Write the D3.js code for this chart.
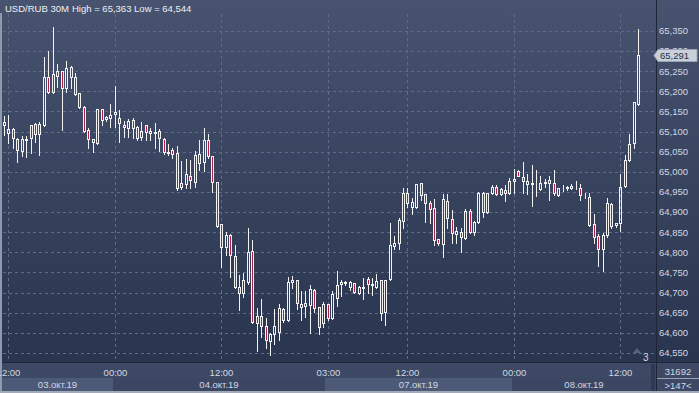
<!DOCTYPE html>
<html>
<head>
<meta charset="utf-8">
<script src="https://cdn.jsdelivr.net/npm/d3@7"></script>
<style>
  html, body { margin: 0; padding: 0; background: #2b3651; }
  svg { display: block; font-family: "Liberation Sans", Arial, sans-serif; }
</style>
</head>
<body>
<svg width="699" height="393"></svg>
<script>
// USD/RUB 30M candles, 03.10.19 12:00 .. 08.10.19 ~13:00
const opens = [
  65.116, 65.097, 65.107, 65.082, 65.052, 65.079, 65.084, 65.119, 65.094, 65.116,
  65.236, 65.198, 65.238, 65.251, 65.208, 65.261, 65.236, 65.196, 65.161, 65.104,
  65.074, 65.072, 65.156, 65.131, 65.134, 65.144, 65.134, 65.116, 65.109, 65.129,
  65.111, 65.087, 65.116, 65.097, 65.097, 65.102, 65.082, 65.049, 65.054, 65.047,
  64.962, 64.970, 64.990, 64.975, 65.044, 65.025, 65.079, 65.039, 64.975, 64.871,
  64.813, 64.843, 64.791, 64.714, 64.699, 64.726, 64.803, 64.625, 64.642, 64.617,
  64.580, 64.597, 64.602, 64.659, 64.632, 64.726, 64.731, 64.664, 64.667, 64.669,
  64.707, 64.664, 64.625, 64.672, 64.637, 64.687, 64.721, 64.724, 64.714, 64.724,
  64.699, 64.712, 64.734, 64.721, 64.714, 64.731, 64.652, 64.734, 64.816, 64.823,
  64.878, 64.948, 64.913, 64.913, 64.972, 64.945, 64.923, 64.910, 64.833, 64.821,
  64.928, 64.883, 64.846, 64.851, 64.836, 64.903, 64.851, 64.876, 64.948, 64.900,
  64.948, 64.962, 64.945, 64.955, 64.948, 64.977, 65.002, 64.987, 64.977, 64.972,
  64.972, 64.957, 64.972, 64.972, 64.972, 64.943, 64.962, 64.962, 64.960, 64.962,
  64.960, 64.943, 64.938, 64.871, 64.841, 64.808, 64.843, 64.920, 64.868, 64.873,
  64.965, 65.030, 65.072, 65.169
];
const highs = [
  65.141, 65.144, 65.111, 65.087, 65.092, 65.092, 65.119, 65.124, 65.126, 65.288,
  65.303, 65.363, 65.270, 65.253, 65.278, 65.265, 65.248, 65.198, 65.166, 65.111,
  65.084, 65.159, 65.159, 65.141, 65.171, 65.216, 65.156, 65.129, 65.134, 65.136,
  65.116, 65.126, 65.119, 65.111, 65.124, 65.109, 65.087, 65.072, 65.062, 65.067,
  65.030, 65.034, 65.032, 65.054, 65.082, 65.111, 65.097, 65.042, 64.977, 64.873,
  64.853, 64.848, 64.821, 64.746, 64.751, 64.863, 64.833, 64.664, 64.687, 64.640,
  64.602, 64.662, 64.674, 64.664, 64.741, 64.744, 64.734, 64.707, 64.707, 64.721,
  64.712, 64.667, 64.679, 64.674, 64.707, 64.756, 64.734, 64.731, 64.731, 64.726,
  64.719, 64.739, 64.741, 64.739, 64.749, 64.732, 64.734, 64.876, 64.843, 64.888,
  64.962, 64.962, 64.938, 64.972, 64.973, 64.948, 64.930, 64.935, 64.836, 64.948,
  64.948, 64.908, 64.866, 64.863, 64.910, 64.910, 64.880, 64.953, 64.953, 64.950,
  64.970, 64.970, 64.962, 64.970, 64.987, 65.010, 65.007, 65.027, 64.997, 65.020,
  65.007, 64.992, 64.985, 64.992, 65.007, 64.962, 64.970, 64.967, 64.972, 64.980,
  64.972, 64.950, 64.950, 64.898, 64.848, 64.851, 64.938, 64.925, 64.876, 64.997,
  65.044, 65.097, 65.175, 65.357
];
const lows = [
  65.092, 65.072, 65.059, 65.025, 65.039, 65.037, 65.047, 65.074, 65.042, 65.114,
  65.196, 65.196, 65.211, 65.104, 65.198, 65.208, 65.191, 65.159, 65.099, 65.059,
  65.049, 65.070, 65.116, 65.126, 65.111, 65.111, 65.074, 65.087, 65.087, 65.084,
  65.079, 65.079, 65.079, 65.079, 65.059, 65.052, 65.044, 65.042, 65.034, 64.955,
  64.957, 64.960, 64.960, 64.962, 65.005, 65.002, 65.034, 64.950, 64.863, 64.764,
  64.794, 64.739, 64.712, 64.657, 64.689, 64.721, 64.625, 64.555, 64.590, 64.563,
  64.544, 64.573, 64.582, 64.627, 64.630, 64.712, 64.659, 64.632, 64.640, 64.600,
  64.652, 64.597, 64.615, 64.632, 64.635, 64.667, 64.692, 64.719, 64.707, 64.699,
  64.697, 64.684, 64.699, 64.694, 64.712, 64.632, 64.620, 64.731, 64.808, 64.808,
  64.861, 64.913, 64.895, 64.910, 64.930, 64.876, 64.873, 64.818, 64.818, 64.789,
  64.861, 64.823, 64.823, 64.801, 64.833, 64.848, 64.843, 64.873, 64.888, 64.898,
  64.945, 64.943, 64.943, 64.928, 64.945, 64.948, 64.989, 64.948, 64.945, 64.915,
  64.940, 64.955, 64.962, 64.930, 64.943, 64.941, 64.953, 64.955, 64.957, 64.957,
  64.930, 64.935, 64.866, 64.823, 64.766, 64.754, 64.838, 64.861, 64.863, 64.853,
  64.962, 65.027, 65.059, 65.166
];
const closes = [
  65.124, 65.107, 65.084, 65.054, 65.082, 65.082, 65.116, 65.094, 65.119, 65.236,
  65.198, 65.243, 65.251, 65.208, 65.258, 65.236, 65.193, 65.161, 65.102, 65.082,
  65.082, 65.156, 65.129, 65.136, 65.141, 65.149, 65.121, 65.111, 65.126, 65.109,
  65.084, 65.102, 65.099, 65.102, 65.098, 65.084, 65.049, 65.048, 65.044, 64.960,
  64.972, 64.995, 64.980, 65.042, 65.022, 65.079, 65.039, 64.975, 64.866, 64.813,
  64.843, 64.794, 64.714, 64.699, 64.731, 64.801, 64.627, 64.642, 64.617, 64.582,
  64.597, 64.617, 64.662, 64.632, 64.726, 64.731, 64.674, 64.672, 64.674, 64.709,
  64.662, 64.615, 64.672, 64.637, 64.697, 64.719, 64.726, 64.726, 64.726, 64.702,
  64.714, 64.714, 64.721, 64.720, 64.729, 64.650, 64.731, 64.818, 64.823, 64.880,
  64.948, 64.923, 64.925, 64.970, 64.943, 64.923, 64.908, 64.831, 64.823, 64.933,
  64.885, 64.848, 64.853, 64.838, 64.903, 64.851, 64.876, 64.948, 64.900, 64.948,
  64.962, 64.945, 64.957, 64.948, 64.977, 64.982, 64.990, 64.977, 64.970, 64.971,
  64.973, 64.972, 64.975, 64.980, 64.948, 64.960, 64.963, 64.961, 64.965, 64.963,
  64.943, 64.942, 64.868, 64.838, 64.808, 64.843, 64.923, 64.866, 64.873, 64.962,
  65.030, 65.069, 65.174, 65.291
];

const priceTicks = [64.55, 64.60, 64.65, 64.70, 64.75, 64.80, 64.85, 64.90, 64.95,
                    65.00, 65.05, 65.10, 65.15, 65.20, 65.25, 65.30, 65.35];
const timeTickIdx = [1, 25, 49, 73, 91, 115, 139];
const timeTickLabels = ['12:00', '00:00', '12:00', '03:00', '12:00', '00:00', '12:00'];
const dayStartIdx = [0, 25, 73, 115];
const dayLabels = ['03.окт.19', '04.окт.19', '07.окт.19', '08.окт.19'];

const W = 699, H = 393;
const plotLeft = 3, plotRight = 656, plotTop = 14, plotBottom = 362;
const textColor = '#d3d8e2';

const svg = d3.select('svg');

const grad = svg.append('defs').append('linearGradient')
    .attr('id', 'bg').attr('x1', 0).attr('y1', 0).attr('x2', 0).attr('y2', 1);
grad.append('stop').attr('offset', '0%').attr('stop-color', '#47536f');
grad.append('stop').attr('offset', '100%').attr('stop-color', '#29344e');

svg.append('rect').attr('width', W).attr('height', plotBottom).attr('fill', 'url(#bg)');
svg.append('rect').attr('y', plotBottom).attr('width', W).attr('height', H - plotBottom).attr('fill', '#3c4864');

const idx = d3.range(opens.length);
const x = d3.scalePoint().domain(idx).range([4, 638]);
const y = d3.scaleLinear().domain([64.55, 65.35]).range([353, 31]);
const step = x.step();
const px = (i) => Math.round(x(i)) + 0.5;
const py = (v) => Math.round(y(v)) + 0.5;
const fmt = (v) => d3.format('.3f')(v).replace('.', ',');

// grid
svg.append('g').selectAll('line')
    .data(priceTicks)
    .enter().append('line')
    .attr('x1', plotLeft).attr('x2', plotRight)
    .attr('y1', py).attr('y2', py)
    .attr('stroke', '#5e6b89').attr('stroke-dasharray', '3,3');

svg.append('g').selectAll('line')
    .data(timeTickIdx)
    .enter().append('line')
    .attr('x1', px).attr('x2', px)
    .attr('y1', plotTop).attr('y2', plotBottom)
    .attr('stroke', '#5e6b89').attr('stroke-dasharray', '3,3');

// candles
const candles = svg.append('g').attr('shape-rendering', 'crispEdges');
const c = candles.selectAll('g').data(idx).enter().append('g');
c.append('line')
    .attr('x1', px).attr('x2', px)
    .attr('y1', (i) => py(highs[i]))
    .attr('y2', (i) => py(Math.max(opens[i], closes[i])))
    .attr('stroke', '#f2f2f2');
c.append('line')
    .attr('x1', px).attr('x2', px)
    .attr('y1', (i) => py(Math.min(opens[i], closes[i])))
    .attr('y2', (i) => py(lows[i]))
    .attr('stroke', '#f2f2f2');
c.append('rect')
    .attr('x', (i) => px(i) - 1)
    .attr('width', 2)
    .attr('y', (i) => py(Math.max(opens[i], closes[i])))
    .attr('height', (i) => py(Math.min(opens[i], closes[i])) - py(Math.max(opens[i], closes[i])))
    .attr('fill', (i) => closes[i] < opens[i] ? '#ab2045' : 'none')
    .attr('stroke', '#f2f2f2');

// borders
svg.append('line').attr('x1', 0).attr('x2', W).attr('y1', plotBottom + 0.5).attr('y2', plotBottom + 0.5).attr('stroke', '#1e2637');
svg.append('line').attr('x1', plotRight + 0.5).attr('x2', plotRight + 0.5).attr('y1', 0).attr('y2', H).attr('stroke', '#1e2637');
svg.append('rect').attr('x', 0).attr('y', 13).attr('width', 2).attr('height', H - 13).attr('fill', '#8f99ac');
svg.append('rect').attr('x', 0).attr('y', H - 2).attr('width', W).attr('height', 2).attr('fill', '#a2aaba');

// price axis
svg.append('g').selectAll('text')
    .data(priceTicks)
    .enter().append('text')
    .attr('x', 659).attr('y', (d) => y(d)).attr('dy', '0.35em')
    .attr('fill', textColor).attr('font-size', '9.5px')
    .text(fmt);

// last price tag
const last = closes[closes.length - 1];
const ly = Math.round(y(last)) + 0.5;
svg.append('path')
    .attr('d', `M654,${ly} L658,${ly - 6} L697,${ly - 6} L697,${ly + 6} L658,${ly + 6} Z`)
    .attr('fill', '#c9d0da').attr('stroke', '#9aa3b3');
svg.append('text').attr('x', 660).attr('y', ly).attr('dy', '0.35em')
    .attr('fill', '#27314a').attr('font-size', '9.5px').text(fmt(last));

// date bands
const bandX = dayStartIdx.map((d, k) => k === 0 ? 2 : Math.round(x(d) - step / 2));
bandX.push(plotRight);
dayLabels.forEach((lab, k) => {
    svg.append('rect')
        .attr('x', bandX[k]).attr('y', 378)
        .attr('width', bandX[k + 1] - bandX[k]).attr('height', 13)
        .attr('fill', k % 2 === 0 ? '#4c5a78' : '#3a4662');
    svg.append('text')
        .attr('x', (bandX[k] + bandX[k + 1]) / 2).attr('y', 388)
        .attr('text-anchor', 'middle')
        .attr('fill', textColor).attr('font-size', '9.5px')
        .text(lab);
});
svg.append('rect').attr('x', 651).attr('y', 364).attr('width', 4).attr('height', 27).attr('fill', '#2f3a52');

// time labels
svg.append('g').selectAll('text')
    .data(timeTickIdx)
    .enter().append('text')
    .attr('x', px).attr('y', 376)
    .attr('text-anchor', 'middle')
    .attr('fill', textColor).attr('font-size', '9.5px')
    .text((d, i) => timeTickLabels[i]);

// info box
svg.append('line').attr('x1', plotRight + 1).attr('x2', W).attr('y1', 378.5).attr('y2', 378.5).attr('stroke', '#9aa3b4');
svg.append('text').attr('x', 678).attr('y', 375).attr('text-anchor', 'middle')
    .attr('fill', textColor).attr('font-size', '9.5px').text('31692');
svg.append('text').attr('x', 678).attr('y', 389).attr('text-anchor', 'middle')
    .attr('fill', textColor).attr('font-size', '9.5px').text('>147<');

// shift marker
svg.append('path').attr('d', 'M633,353 L637,348 L641,353 Z').attr('fill', '#56627e');
svg.append('text').attr('x', 643).attr('y', 361)
    .attr('fill', textColor).attr('font-size', '10px').text('3');

// title
svg.append('text').attr('x', 5).attr('y', 12)
    .attr('fill', '#eef1f5').attr('font-size', '9.5px').text('USD/RUB 30M');
svg.append('text').attr('x', 72).attr('y', 12)
    .attr('fill', '#eef1f5').attr('font-size', '9.5px').text('High = 65,363 Low = 64,544');
</script>
</body>
</html>
